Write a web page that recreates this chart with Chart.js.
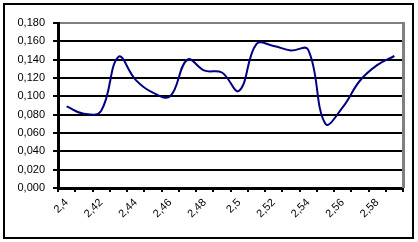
<!DOCTYPE html>
<html>
<head>
<meta charset="utf-8">
<script src="https://cdn.jsdelivr.net/npm/chart.js@4/dist/chart.umd.min.js"></script>
<style>
  body { margin: 0; background: #fff; }
  canvas { display: block; }
</style>
</head>
<body>
<canvas id="chart" width="418" height="242"></canvas>
<script>
// categories along the x axis (only every other one gets a label)
let categories = ['2,4', '2,41', '2,42', '2,43', '2,44', '2,45', '2,46', '2,47', '2,48', '2,49',
  '2,5', '2,51', '2,52', '2,53', '2,54', '2,55', '2,56', '2,57', '2,58', '2,59'];
// values
let values = [0.089, 0.081, 0.084, 0.143, 0.118, 0.104, 0.100, 0.140, 0.128, 0.126,
  0.106, 0.157, 0.155, 0.150, 0.151, 0.070, 0.088, 0.117, 0.134, 0.144];
// y axis range
let yMin = 0, yMax = 0.18, yStep = 0.02;

// outer frame + gray plot border on the right
let frame = {
  id: 'frame',
  afterDraw(chart) {
    let c = chart.ctx, a = chart.chartArea;
    c.save();
    c.strokeStyle = '#000';
    c.lineWidth = 2;
    c.strokeRect(4, 4, 409, 234);
    c.strokeStyle = '#808080';
    c.lineWidth = 3;
    c.beginPath();
    c.moveTo(a.right + 0.5, a.top - 1);
    c.lineTo(a.right + 0.5, a.bottom);
    c.stroke();
    c.restore();
  }
};

let trafficChart = new Chart(document.getElementById('chart'), {
  type: 'line',
  data: {
    labels: categories,
    datasets: [{
      data: values,
      borderColor: '#000080',
      borderWidth: 2,
      pointRadius: 0,
      tension: 0.4,
      fill: false
    }]
  },
  options: {
    responsive: false,
    animation: false,
    devicePixelRatio: 1,
    layout: { padding: { left: 0, right: 15, top: 23, bottom: 0 } },
    plugins: { legend: { display: false }, tooltip: { enabled: false } },
    scales: {
      x: {
        offset: true,
        afterFit: s => { s.height = 54; },
        grid: { drawOnChartArea: false, offset: true, color: '#000', lineWidth: 2, tickLength: 4 },
        border: { color: '#000', width: 3 },
        ticks: {
          autoSkip: false,
          minRotation: 45,
          maxRotation: 45,
          padding: 4,
          color: '#000',
          font: { family: 'Liberation Sans, Arial', size: 11 },
          callback: (v, i) => i % 2 === 0 ? categories[i] : ''
        }
      },
      y: {
        min: yMin,
        max: yMax,
        afterFit: s => { s.width = 58; },
        grid: {
          color: ctx => ctx.tick && ctx.tick.value > yMax - 1e-9 ? '#808080' : '#000',
          tickColor: '#000',
          lineWidth: 2,
          tickLength: 5
        },
        border: { color: '#000', width: 3 },
        ticks: {
          stepSize: yStep,
          padding: 8,
          color: '#000',
          font: { family: 'Liberation Sans, Arial', size: 11 },
          callback: v => v.toFixed(3).replace('.', ',')
        }
      }
    }
  },
  plugins: [frame]
});
</script>
</body>
</html>
